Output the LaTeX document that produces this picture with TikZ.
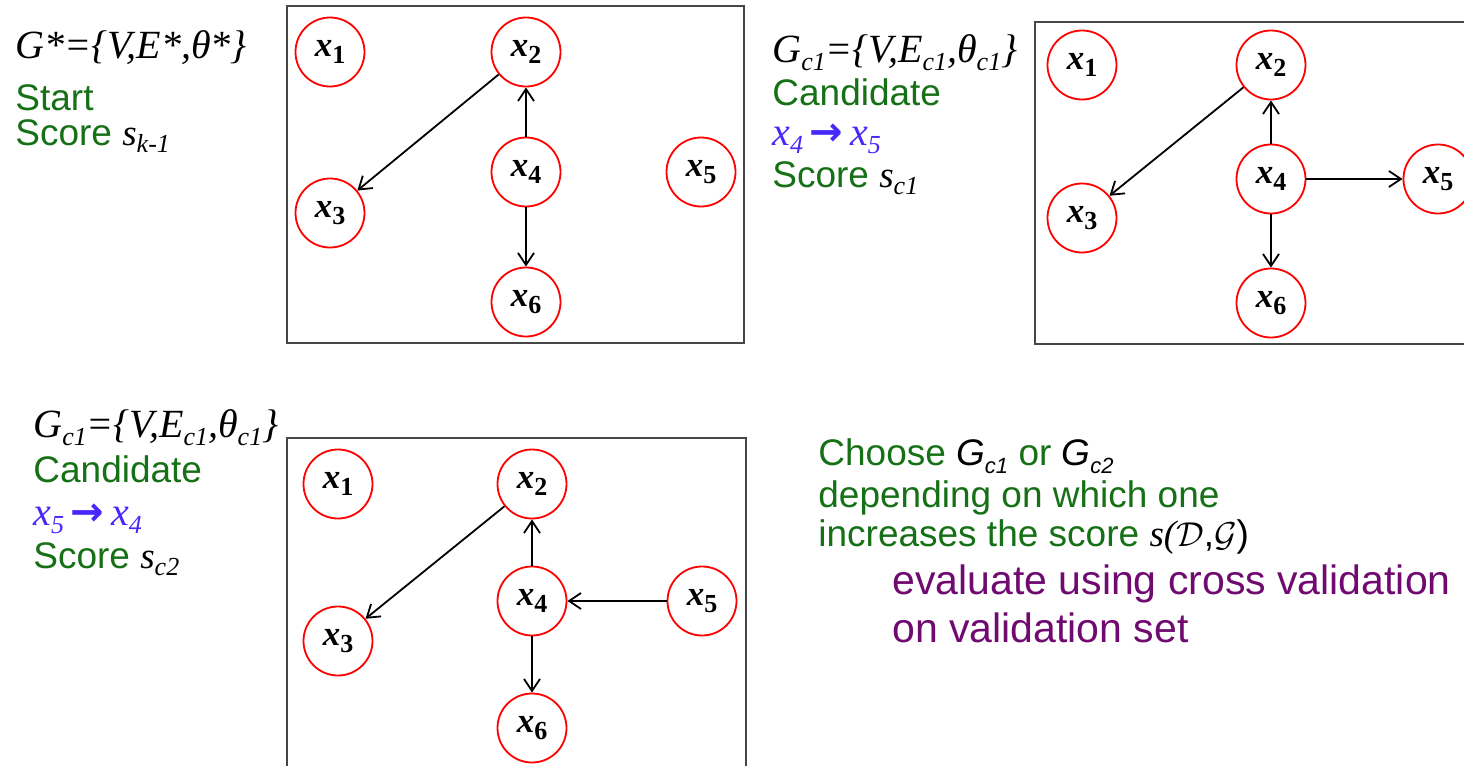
\documentclass[tikz,border=0pt]{standalone}
\usepackage{fontspec}
\setmainfont{Liberation Serif}
\setsansfont{Liberation Sans}
\newfontfamily\arrowfont{DejaVu Sans}
\usetikzlibrary{arrows.meta}

\definecolor{txtgreen}{RGB}{22,112,22}
\definecolor{txtpurple}{RGB}{112,10,112}
\definecolor{txtblue}{RGB}{70,40,250}
\definecolor{framegray}{RGB}{70,70,70}

% lowered index, e.g. the c1 in G_c1
\newcommand\lo[2][13]{\raisebox{-0.45ex}{\fontsize{#1}{#1}\selectfont #2}}
\newcommand\var[1]{x\lo{\upshape #1}}
\newcommand\bigarrow{\,{\arrowfont\bfseries →}\,}

\begin{document}
\begin{tikzpicture}[x=0.5pt,y=-0.5pt,->,>={Straight Barb[length=6pt,width=8pt]},
    main node/.style={circle,draw=red,line width=0.9pt,minimum size=34.5pt,inner sep=0pt,
      font=\rmfamily\bfseries\itshape\fontsize{17.5}{17.5}\selectfont},
    frame/.style={draw=framegray,line width=0.8pt},
    head/.style={anchor=base west,inner sep=0pt,font=\rmfamily\itshape\fontsize{20}{20}\selectfont},
    note/.style={anchor=base west,inner sep=0pt,text=txtgreen,font=\sffamily\fontsize{18.5}{18.5}\selectfont},
    aside/.style={note,text=txtpurple,font=\sffamily\fontsize{20.5}{20.5}\selectfont},
    move/.style={anchor=base west,inner sep=0pt,text=txtblue,font=\rmfamily\itshape\fontsize{20}{20}\selectfont},
    every edge/.style={draw,line width=0.9pt}]
  \useasboundingbox (0,0) rectangle (1464,766);

  % start graph
  \draw[frame,-] (287,6) rectangle (744,343);
  \node[head] (g0) at (15,58) {G*=\{V,E*,θ*\}};
  \node[note] (s0) at (15,110) {Start};
  \node[note] (k0) at (15,145) {Score {\rmfamily\itshape\color{black}s\lo{k-1}}};
  \node[main node] (a1) at (330,52) {\var{1}};
  \node[main node] (a2) at (526,52) {\var{2}};
  \node[main node] (a3) at (330,213) {\var{3}};
  \node[main node] (a4) at (526,172) {\var{4}};
  \node[main node] (a5) at (701,172) {\var{5}};
  \node[main node] (a6) at (526,302) {\var{6}};
  \path (a2) edge (a3)
        (a4) edge (a2)
        (a4) edge (a6);

  % first candidate: add x4 -> x5
  \draw[frame,-] (1035,22) rectangle (1480,344);
  \node[head] (g1) at (772,62) {G\lo{c1}=\{V,E\lo{c1},θ\lo{c1}\}};
  \node[note] (s1) at (772,105) {Candidate};
  \node[move] (m1) at (772,145) {x\lo{4}\bigarrow x\lo{5}};
  \node[note] (k1) at (772,187) {Score {\rmfamily\itshape\color{black}s\lo{c1}}};
  \node[main node] (b1) at (1082,65) {\var{1}};
  \node[main node] (b2) at (1271,65) {\var{2}};
  \node[main node] (b3) at (1082,218) {\var{3}};
  \node[main node] (b4) at (1271,179) {\var{4}};
  \node[main node] (b5) at (1438,179) {\var{5}};
  \node[main node] (b6) at (1271,303) {\var{6}};
  \path (b2) edge (b3)
        (b4) edge (b2)
        (b4) edge (b6)
        (b4) edge (b5);

  % second candidate: add x5 -> x4
  \draw[frame,-] (287,438) rectangle (746,790);
  \node[head] (g2) at (33,437) {G\lo{c1}=\{V,E\lo{c1},θ\lo{c1}\}};
  \node[note] (s2) at (33,482) {Candidate};
  \node[move] (m2) at (33,525) {x\lo{5}\bigarrow x\lo{4}};
  \node[note] (k2) at (33,568) {Score {\rmfamily\itshape\color{black}s\lo{c2}}};
  \node[main node] (c1) at (338,484) {\var{1}};
  \node[main node] (c2) at (532,484) {\var{2}};
  \node[main node] (c3) at (338,641) {\var{3}};
  \node[main node] (c4) at (532,601) {\var{4}};
  \node[main node] (c5) at (702,601) {\var{5}};
  \node[main node] (c6) at (532,728) {\var{6}};
  \path (c2) edge (c3)
        (c4) edge (c2)
        (c4) edge (c6)
        (c5) edge (c4);

  % choosing between the two
  \node[note] (r1) at (818,465) {Choose {\color{black}\itshape G\lo[11]{c1}} or {\color{black}\itshape G\lo[11]{c2}}};
  \node[note] (r2) at (818,507) {depending on which one};
  \node[note] (r3) at (818,546) {increases the score {\color{black}\rmfamily\itshape s(}{\color{black}$\mathcal{D}$,$\mathcal{G}$)}};
  \node[aside] (r4) at (892,594) {evaluate using cross validation};
  \node[aside] (r5) at (892,642) {on validation set};
\end{tikzpicture}
\end{document}
